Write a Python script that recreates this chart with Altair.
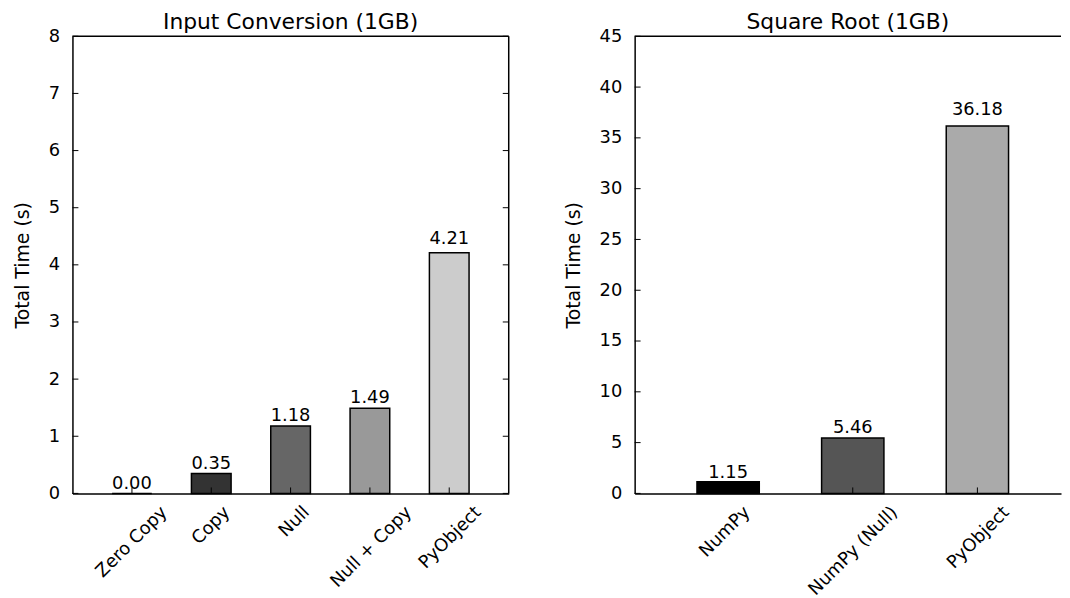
import altair as alt
import pandas as pd

FONT = "DejaVu Sans"

# ---- data ----
left_title = "Input Conversion (1GB)"
left_cats = ["Zero Copy", "Copy", "Null", "Null + Copy", "PyObject"]
left_vals = [0.00, 0.35, 1.18, 1.49, 4.21]
left_colors = ["#000000", "#333333", "#666666", "#999999", "#cccccc"]
left_ticks = [0, 1, 2, 3, 4, 5, 6, 7, 8]

right_title = "Square Root (1GB)"
right_cats = ["NumPy", "NumPy (Null)", "PyObject"]
right_vals = [1.15, 5.46, 36.18]
right_colors = ["#000000", "#555555", "#aaaaaa"]
right_ticks = [0, 5, 10, 15, 20, 25, 30, 35, 40, 45]

y_title = "Total Time (s)"

H = 461
W1 = 440
W2 = 430
TICK = 6


def panel(title, cats, vals, colors, ticks, width, xscale, right_border):
    df = pd.DataFrame({"cat": cats, "val": vals})
    tdf = pd.DataFrame({"t": ticks})
    one = pd.DataFrame({"a": [0]})
    yscale = alt.Scale(domain=[ticks[0], ticks[-1]], nice=False, zero=True)
    xenc = alt.X("cat:N", sort=cats, scale=xscale, title=None)

    bars = alt.Chart(df).mark_bar(stroke="black", strokeWidth=1.5).encode(
        x=xenc,
        y=alt.Y("val:Q", scale=yscale, title=y_title,
                axis=alt.Axis(values=ticks, format="d")),
        color=alt.Color("cat:N", scale=alt.Scale(domain=cats, range=colors), legend=None),
    )
    text = alt.Chart(df).transform_calculate(ly="datum.val * 1.02").mark_text(
        baseline="bottom", align="center", fontSize=18, font=FONT, color="black"
    ).encode(
        x=xenc,
        y=alt.Y("ly:Q", scale=yscale, title=y_title),
        text=alt.Text("val:Q", format=".2f"),
    )
    yt_left = alt.Chart(tdf).mark_rule(color="black", strokeWidth=1).encode(
        y=alt.Y("t:Q", scale=yscale, title=y_title),
        x=alt.value(0), x2=alt.value(TICK),
    )
    xt = alt.Chart(df).mark_rule(color="black", strokeWidth=1).encode(
        x=xenc, y=alt.value(H), y2=alt.value(H - TICK)
    )
    top = alt.Chart(one).mark_rule(color="black", strokeWidth=1.5).encode(
        x=alt.value(0), x2=alt.value(width), y=alt.value(0)
    )
    layers = [bars, text, yt_left, xt, top]
    if right_border:
        yt_right = alt.Chart(tdf).mark_rule(color="black", strokeWidth=1).encode(
            y=alt.Y("t:Q", scale=yscale, title=y_title),
            x=alt.value(width - TICK), x2=alt.value(width),
        )
        rb = alt.Chart(one).mark_rule(color="black", strokeWidth=1.5).encode(
            x=alt.value(width), y=alt.value(0), y2=alt.value(H)
        )
        layers += [yt_right, rb]
    return alt.layer(*layers).properties(
        width=width, height=H,
        title=alt.TitleParams(title, frame="group"),
    )


# band scales reproducing matplotlib bar placement (bar width = half a step)
left_x = alt.Scale(paddingInner=0.5, paddingOuter=0.5)
step2 = 125.7
outer2 = W2 - step2 * (len(right_cats) - 0.5)
right_x = alt.Scale(paddingInner=0.5, paddingOuter=outer2 / (2 * step2),
                    align=(0.5 * step2) / outer2)

left = panel(left_title, left_cats, left_vals, left_colors, left_ticks, W1, left_x, True)
right = panel(right_title, right_cats, right_vals, right_colors, right_ticks, W2, right_x, False)

chart = alt.hconcat(left, right, spacing=55).resolve_scale(
    x="independent", y="independent", color="independent"
).properties(
    padding={"left": 5, "top": 1, "right": 0, "bottom": 0}
).configure_view(stroke=None).configure_axis(
    domain=True, domainColor="black", domainWidth=1.5, grid=False, ticks=False,
    labelFont=FONT, labelFontSize=18, labelColor="black",
    titleFont=FONT, titleFontSize=19, titleFontWeight="normal", titleColor="black",
).configure_axisY(
    labelPadding=13, titlePadding=16,
).configure_axisX(
    labelAngle=315, labelAlign="right", labelBaseline="middle", labelPadding=16,
    labelOffset=alt.ExprRef(expr="3 + 3.3 * length(datum.label)"),
).configure_title(
    font=FONT, fontSize=22, fontWeight="normal", color="black", offset=-7,
)

chart.save("out.html", embed_options={"renderer": "svg", "actions": False})
